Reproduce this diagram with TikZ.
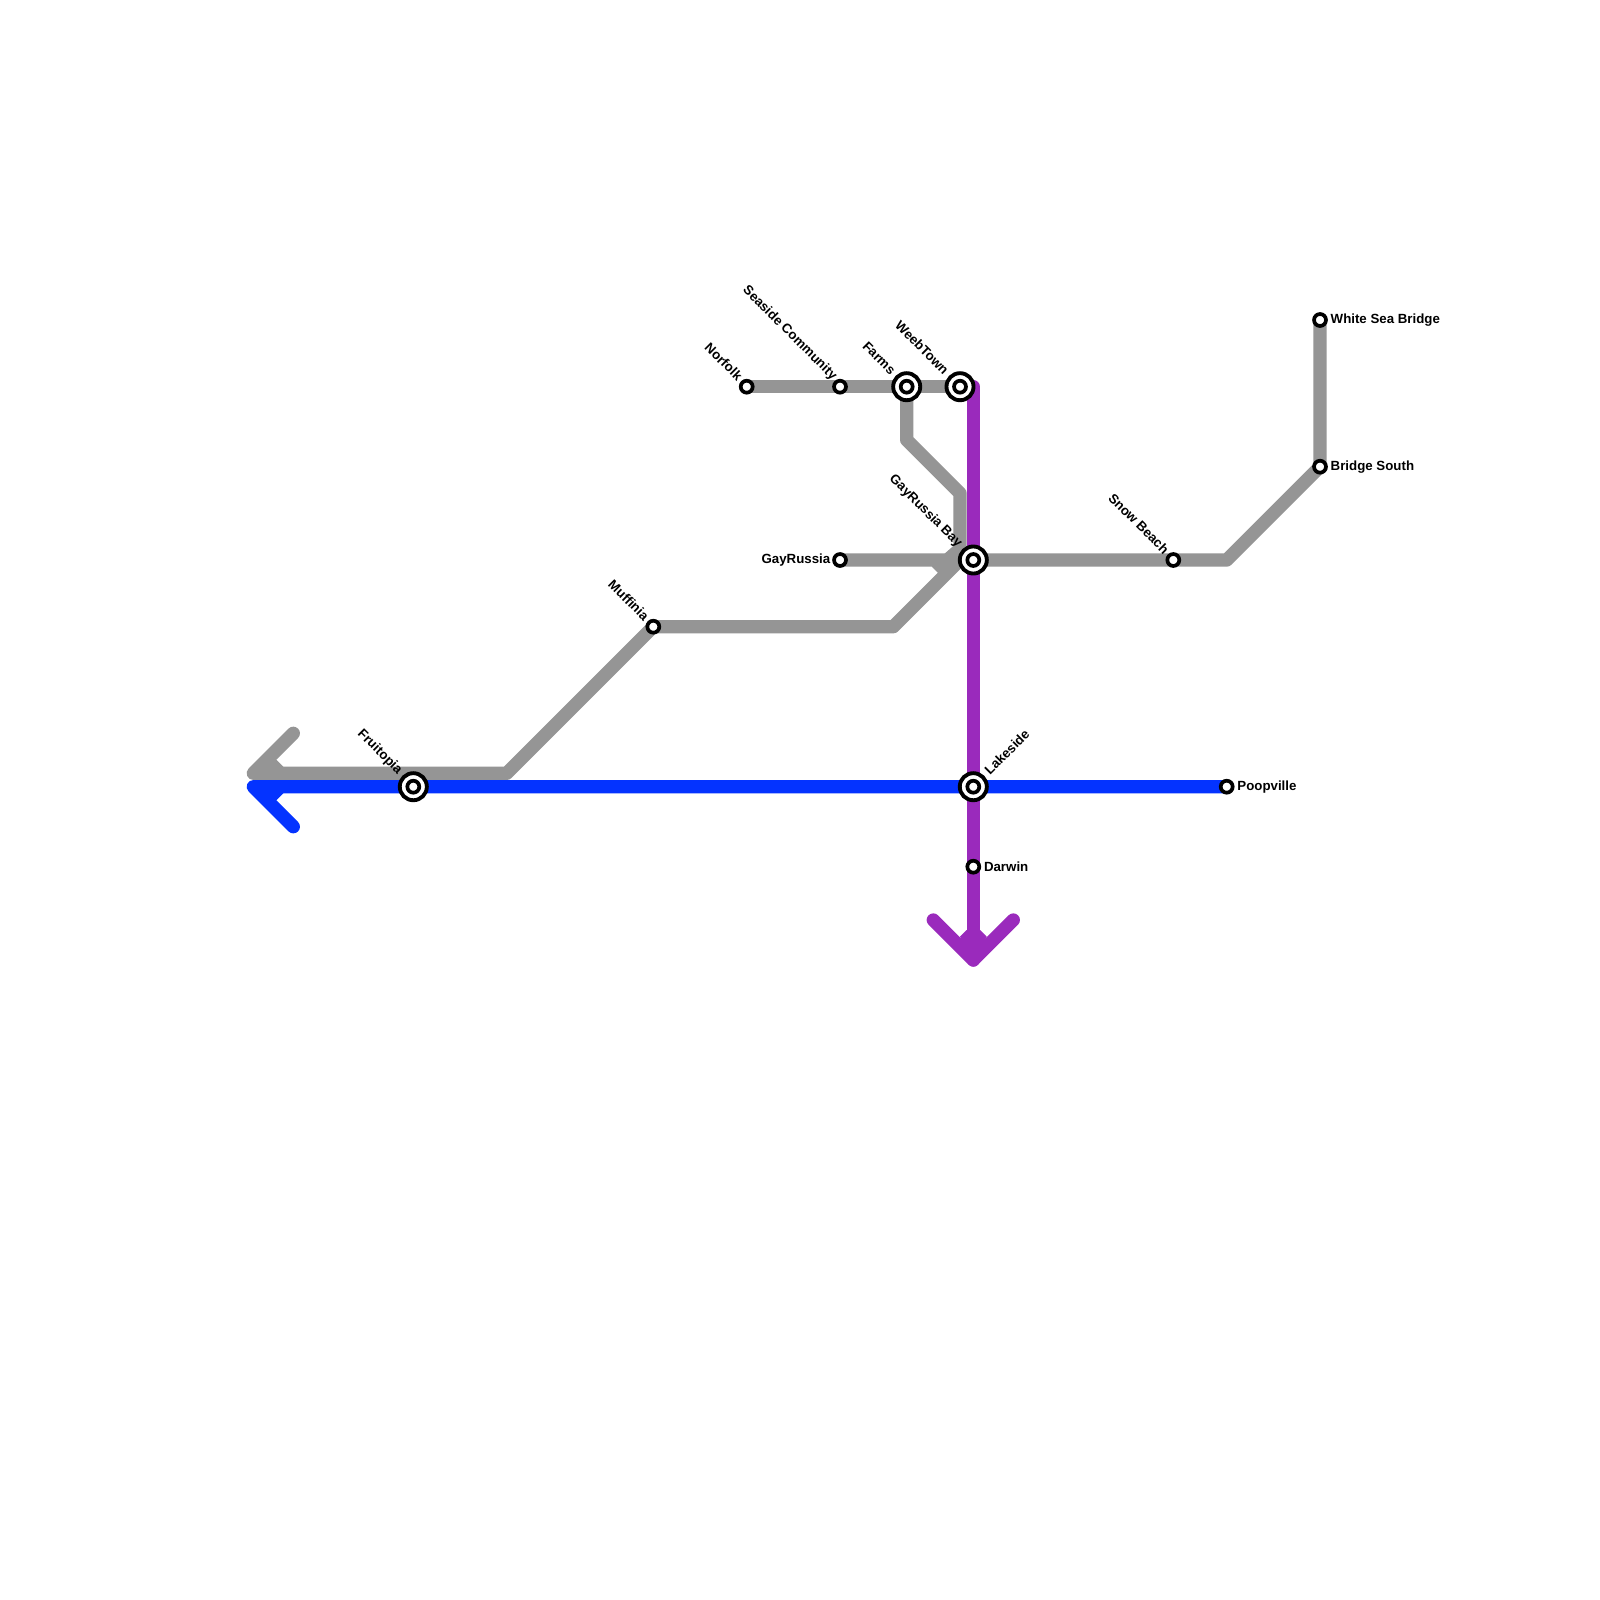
\documentclass[tikz,border=0pt]{standalone}
\usepackage{fontspec}
\usetikzlibrary{calc}
\setmainfont{Liberation Sans}
\tikzset{
  line/.style={line width=3.79pt,line cap=round,line join=round},
  greyline/.style={line,draw=lgrey},
  blueline/.style={line,draw=lblue},
  purpleline/.style={line,draw=lpurple},
  small/.style={circle,draw=black,fill=white,line width=1.05pt,minimum size=3.4pt,inner sep=0pt},
  inter/.style={circle,draw=black,fill=white,line width=1.1pt,minimum size=7.7pt,inner sep=0pt},
  lab/.style={font=\fontsize{3.78pt}{4.2pt}\selectfont\bfseries,text=black,inner sep=0pt},
  labUL/.style={lab,rotate=-45,anchor=east},
  labUR/.style={lab,rotate=45,anchor=west},
  labR/.style={lab,anchor=west},
  labL/.style={lab,anchor=east}
}
\definecolor{lgrey}{HTML}{959595}
\definecolor{lblue}{HTML}{0433FF}
\definecolor{lpurple}{HTML}{9A2ABC}
\begin{document}
\begin{tikzpicture}[x=0.2845pt,y=-0.2845pt]
\useasboundingbox (0,0) rectangle (1600,1600);
\fill[white] (0,0) rectangle (1600,1600);
% station and bend positions
\coordinate (norfolk) at (746.7,386.7);
\coordinate (seaside) at (840,386.7);
\coordinate (farms) at (906.7,386.7);
\coordinate (weeb) at (960,386.7);
\coordinate (b1) at (906.7,440);
\coordinate (b2) at (960,493.3);
\coordinate (b3) at (960,546.7);
\coordinate (gayrussia) at (840,560);
\coordinate (gayrussiabay) at (973.3,560);
\coordinate (muffinia) at (653.3,626.7);
\coordinate (b4) at (893.3,626.7);
\coordinate (b5) at (960,560);
\coordinate (snow) at (1173.3,560);
\coordinate (b6) at (1226.7,560);
\coordinate (bridge) at (1320,466.7);
\coordinate (whitesea) at (1320,320);
\coordinate (b7) at (506.7,773.3);
\coordinate (g0) at (253.3,773.3);
\coordinate (g1) at (293.3,733.3);
\coordinate (fruitopia) at (413.3,786.7);
\coordinate (bl0) at (253.3,786.7);
\coordinate (bl1) at (293.3,826.7);
\coordinate (lakeside) at (973.3,786.7);
\coordinate (poopville) at (1226.7,786.7);
\coordinate (ptop) at (973.3,386.7);
\coordinate (darwin) at (973.3,866.7);
\coordinate (p0) at (973.3,960);
\coordinate (p1) at (933.3,920);
\coordinate (p2) at (1013.3,920);
% grey line
\draw[greyline] (g1) -- (g0) -- (b7) -- (muffinia) -- (b4) -- (b5);
\fill[lgrey] (g0) -- (266,760) -- (276.7,760) -- (283.3,766.7) -- (283.3,775) -- (253.3,775) -- cycle;
\draw[greyline] (norfolk) -- (weeb);
\draw[greyline] (farms) -- (b1) -- (b2) -- (b3);
\draw[greyline] (gayrussia) -- (gayrussiabay) -- (b6) -- (bridge) -- (whitesea);
\fill[lgrey] (931.7,566.7) -- (938,573) -- (953,573) -- (962,560) -- (960,546) -- (953.3,546) -- (945,553.3) -- cycle;
% purple line
\draw[purpleline] (ptop) -- (p0);
\draw[purpleline] (p1) -- (p0) -- (p2);
\fill[lpurple] (960,936.7) -- (966.7,930) -- (980,930) -- (986.7,936.7) -- (p0) -- cycle;
% blue line
\draw[blueline] (poopville) -- (bl0) -- (bl1);
\fill[lblue] (bl0) -- (283.3,785) -- (283.3,793.3) -- (276.7,800) -- (266,800) -- cycle;
% stations
\foreach \s in {norfolk,seaside,gayrussia,muffinia,snow,bridge,whitesea,poopville,darwin}{
  \node[small] (st-\s) at (\s) {};
}
\foreach \s in {farms,weeb,gayrussiabay,fruitopia,lakeside}{
  \node[inter] (ring-\s) at (\s) {};
  \node[small] (st-\s) at (\s) {};
}
% labels
\node[labUL] (l-norfolk) at ($(norfolk)+(-6,-8)$) {Norfolk};
\node[labUL] (l-seaside) at ($(seaside)+(-5,-8)$) {Seaside Community};
\node[labUL] (l-farms) at ($(farms)+(-13,-14)$) {Farms};
\node[labUL] (l-weeb) at ($(weeb)+(-13,-14)$) {WeebTown};
\node[labUL] (l-gayrussiabay) at ($(gayrussiabay)+(-13,-14)$) {GayRussia Bay};
\node[labUL] (l-fruitopia) at ($(fruitopia)+(-13,-14)$) {Fruitopia};
\node[labUL] (l-muffinia) at ($(muffinia)+(-6,-8)$) {Muffinia};
\node[labUL] (l-snow) at ($(snow)+(-6,-8)$) {Snow Beach};
\node[labL] (l-gayrussia) at ($(gayrussia)+(-9,0.5)$) {GayRussia};
\node[labR] (l-whitesea) at ($(whitesea)+(10,0.5)$) {White Sea Bridge};
\node[labR] (l-bridge) at ($(bridge)+(10,0.5)$) {Bridge South};
\node[labR] (l-poopville) at ($(poopville)+(10,0.5)$) {Poopville};
\node[labR] (l-darwin) at ($(darwin)+(10,0.5)$) {Darwin};
\node[labUR] (l-lakeside) at ($(lakeside)+(13,-14)$) {Lakeside};
\end{tikzpicture}
\end{document}
